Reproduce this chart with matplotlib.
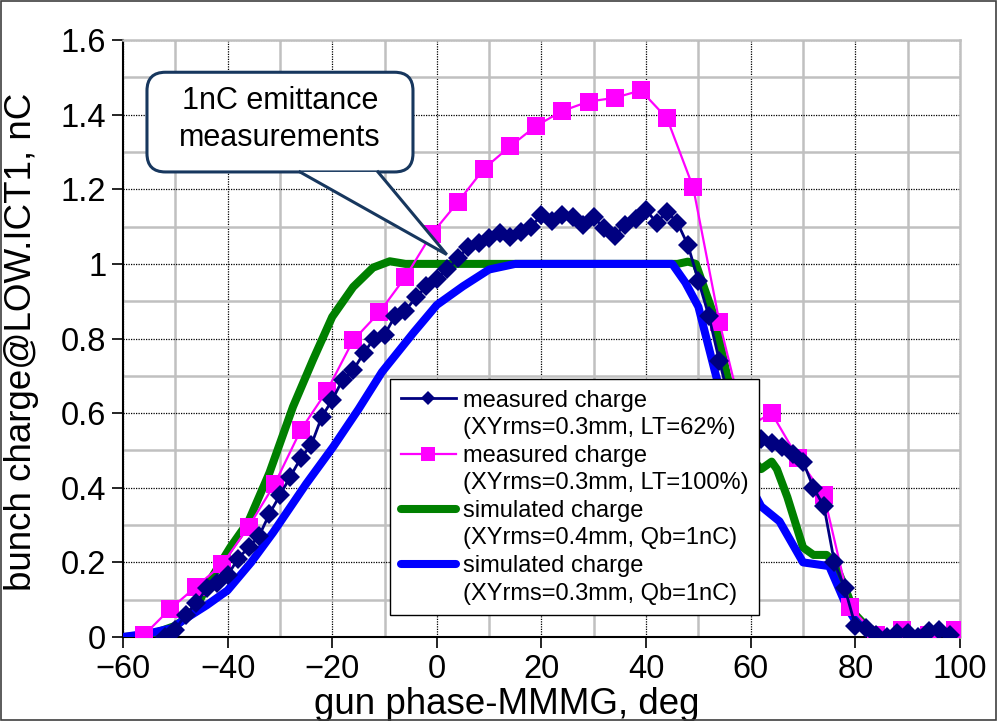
import matplotlib
matplotlib.use("Agg")
import matplotlib.pyplot as plt
from matplotlib.lines import Line2D
from matplotlib.patches import FancyBboxPatch, Polygon, Rectangle
import numpy as np

plt.rcParams['font.family'] = ['Liberation Sans', 'DejaVu Sans']

# ---------------- data ----------------
meas62_x = [-52, -50, -48, -46, -44, -42, -40, -38, -36, -34, -32, -30, -28, -26, -24, -22,
            -20, -18, -16, -14, -12, -10, -8, -6, -4, -2, 0, 2, 4, 6, 8, 10, 12, 14, 16, 18,
            20, 22, 24, 26, 28, 30, 32, 34, 36, 38, 40, 42, 44, 46, 48, 50, 52, 54, 56, 58,
            60, 62, 64, 66, 68, 70, 72, 74, 76, 78, 80, 82, 84, 86, 88, 90, 92, 94, 96, 98]
meas62_y = [0.0, 0.02, 0.06, 0.09, 0.13, 0.145, 0.165, 0.21, 0.24, 0.27, 0.33, 0.38, 0.43, 0.48,
            0.515, 0.59, 0.635, 0.69, 0.715, 0.76, 0.80, 0.81, 0.86, 0.875, 0.91, 0.94, 0.96,
            0.985, 1.015, 1.045, 1.055, 1.07, 1.083, 1.073, 1.085, 1.10, 1.13, 1.115, 1.13,
            1.125, 1.105, 1.125, 1.095, 1.075, 1.105, 1.12, 1.145, 1.11, 1.14, 1.11, 1.05,
            0.955, 0.86, 0.74, 0.63, 0.57, 0.54, 0.53, 0.52, 0.51, 0.49, 0.47, 0.40, 0.35,
            0.20, 0.13, 0.03, 0.025, 0.005, 0.0, 0.01, 0.01, 0.0, 0.015, 0.02, 0.005]

meas100_x = [-56, -51, -46, -41, -36, -31, -26, -21, -16, -11, -6, -1, 4, 9, 14, 19, 24, 29,
             34, 39, 44, 49, 54, 59, 64, 69, 74, 79, 84, 89, 94, 99]
meas100_y = [0.005, 0.075, 0.135, 0.195, 0.295, 0.41, 0.555, 0.66, 0.795, 0.87, 0.965, 1.08,
             1.165, 1.255, 1.315, 1.37, 1.41, 1.435, 1.445, 1.465, 1.39, 1.205, 0.845, 0.56,
             0.60, 0.48, 0.38, 0.08, 0.005, 0.02, 0.005, 0.02]

sim04_x = [-60, -55, -50, -48, -46, -43, -39.5, -36, -32, -27.5, -23.7, -20, -16, -12.2, -9,
           -6, 0, 10, 20, 30, 40, 46, 48, 49.5, 51, 53, 55.5, 58, 60, 62, 64, 65, 67, 70, 72,
           74.5, 76, 77.5, 80, 82, 85, 90]
sim04_y = [0.0, 0.005, 0.03, 0.05, 0.08, 0.16, 0.24, 0.31, 0.44, 0.617, 0.742, 0.858, 0.938,
           0.99, 1.007, 1.0, 1.0, 1.0, 1.0, 1.0, 1.0, 1.0, 1.006, 1.0, 0.94, 0.86, 0.70, 0.56,
           0.48, 0.45, 0.47, 0.45, 0.375, 0.24, 0.22, 0.22, 0.20, 0.15, 0.06, 0.03, 0.005, 0.0]

sim03_x = [-60, -55, -50.5, -48.5, -44, -40, -35.5, -31.3, -25, -19.8, -15, -10.5, -4.5, 0, 5,
           10, 15, 20, 30, 40, 45, 47.5, 50, 53, 56, 59, 62, 65.5, 70, 75, 78.4, 80.3, 84.7, 90]
sim03_y = [0.0, 0.01, 0.024, 0.045, 0.085, 0.125, 0.2, 0.28, 0.41, 0.51, 0.61, 0.71, 0.815,
           0.89, 0.94, 0.985, 1.0, 1.0, 1.0, 1.0, 1.0, 0.95, 0.885, 0.72, 0.56, 0.43, 0.35,
           0.31, 0.2, 0.19, 0.08, 0.037, 0.003, 0.0]

labels = ["measured charge", "(XYrms=0.3mm, LT=62%)",
          "measured charge", "(XYrms=0.3mm, LT=100%)",
          "simulated charge", "(XYrms=0.4mm, Qb=1nC)",
          "simulated charge", "(XYrms=0.3mm, Qb=1nC)"]
xticks = [-60, -40, -20, 0, 20, 40, 60, 80, 100]
yticks = [0, 0.2, 0.4, 0.6, 0.8, 1.0, 1.2, 1.4, 1.6]
ytick_labels = ["0", "0.2", "0.4", "0.6", "0.8", "1", "1.2", "1.4", "1.6"]
callout_text = "1nC emittance\nmeasurements"

NAVY = "#000080"
MAG = "#FF00FF"
GREEN = "#008000"
BLUE = "#0000FF"

fig = plt.figure(figsize=(9.98, 7.21), dpi=100)
ax = fig.add_axes([0.1232, 0.1165, 0.8387, 0.828])

ax.set_xlim(-60, 100)
ax.set_ylim(0, 1.6)

# grids
ax.set_xticks(np.arange(-60, 101, 10), minor=True)
ax.set_yticks(np.arange(0, 1.61, 0.1), minor=True)
ax.grid(which='minor', color='#c0c0c0', linestyle='-', linewidth=1.8, zorder=0)
ax.grid(which='major', color='black', linestyle=(0, (1, 1)), linewidth=0.9, zorder=0.5)
ax.set_axisbelow(True)

ax.plot(sim04_x, sim04_y, color=GREEN, lw=5.8, solid_joinstyle='round',
        solid_capstyle='round', zorder=3)
ax.plot(sim03_x, sim03_y, color=BLUE, lw=5.8, solid_joinstyle='round',
        solid_capstyle='round', zorder=4)
ax.plot(meas100_x, meas100_y, color=MAG, lw=1.6, marker='s', ms=13.5,
        markeredgewidth=0, zorder=5)
ax.plot(meas62_x, meas62_y, color=NAVY, lw=2.0, marker='D', ms=10,
        markeredgewidth=0, zorder=6)

ax.set_xticks(xticks)
ax.set_yticks(yticks)
ax.set_yticklabels(ytick_labels)
ax.tick_params(which='major', direction='out', length=8, width=1.2, labelsize=23.5, pad=4)
ax.tick_params(which='minor', length=0)
for s in ['left', 'bottom']:
    ax.spines[s].set_color('black')
    ax.spines[s].set_linewidth(1.5)
for s in ['top', 'right']:
    ax.spines[s].set_color('#c0c0c0')
    ax.spines[s].set_linewidth(1.8)

ax.set_xlabel("gun phase-MMMG, deg", fontsize=26.5)
ax.set_ylabel("bunch charge@LOW.ICT1, nC", fontsize=26.5)
ax.xaxis.set_label_coords(0.459, -0.083)
ax.yaxis.set_label_coords(-0.1, 0.494)

# legend with handles aligned to first line of each label
blank = Line2D([], [], color='none')
handles = [
    Line2D([], [], color=NAVY, lw=2.0, marker='D', ms=7, markeredgewidth=0), blank,
    Line2D([], [], color=MAG, lw=1.6, marker='s', ms=10, markeredgewidth=0), blank,
    Line2D([], [], color=GREEN, lw=5.8, solid_capstyle='round'), blank,
    Line2D([], [], color=BLUE, lw=5.8, solid_capstyle='round'), blank,
]
leg = ax.legend(handles, labels, loc='upper left', bbox_to_anchor=(0.319, 0.432),
                borderaxespad=0, fontsize=17, frameon=True, fancybox=False,
                edgecolor='black', framealpha=1, handlelength=2.35, handletextpad=0.3,
                labelspacing=0.235, borderpad=0.45)
leg.get_frame().set_linewidth(1.0)
leg.set_zorder(10)

# callout
bx0, by0, bx1, by1 = 0.0287, 0.779, 0.3465, 0.946
aspect = (0.8387 * 998) / (0.828 * 721)
box = FancyBboxPatch((bx0, by0), bx1 - bx0, by1 - by0,
                     boxstyle="round,pad=0,rounding_size=0.022",
                     mutation_aspect=aspect, transform=ax.transAxes,
                     facecolor='white', edgecolor='#17375E', lw=2.2, zorder=11,
                     clip_on=False)
ax.add_patch(box)
tip = ax.transLimits.transform((1.9, 1.025))
base_l = ((300 - 123) / 837.0, by0)
base_r = ((378 - 123) / 837.0, by0)
wedge = Polygon([base_l, tuple(tip), base_r], closed=True, transform=ax.transAxes,
                facecolor='white', edgecolor='none', zorder=12, clip_on=False)
ax.add_patch(wedge)
ax.add_line(Line2D([base_l[0], tip[0], base_r[0]], [base_l[1], tip[1], base_r[1]],
                   transform=ax.transAxes, color='#17375E', lw=2.2, zorder=13,
                   solid_joinstyle='miter', clip_on=False))
ax.text((bx0 + bx1) / 2, (by0 + by1) / 2 + 0.005, callout_text, transform=ax.transAxes,
        ha='center', va='center', fontsize=22, linespacing=1.3, zorder=14)

# outer chart border
fig.patches.append(Rectangle((0.001, 0.001), 0.997, 0.997, transform=fig.transFigure,
                             fill=False, edgecolor='#404040', lw=1.2))

fig.savefig("out.png", dpi=100)
